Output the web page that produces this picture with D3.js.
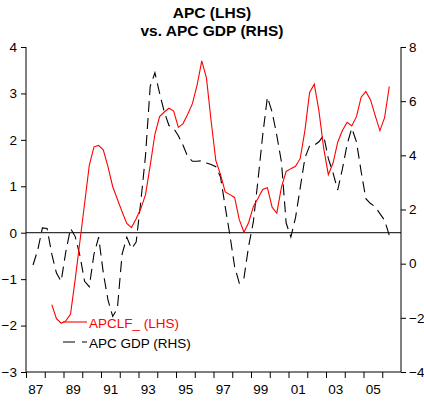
<!DOCTYPE html>
<html>
<head>
<meta charset="utf-8">
<script src="https://cdn.jsdelivr.net/npm/d3@7"></script>
<style>
  html, body { margin: 0; padding: 0; background: #fff; }
  svg { display: block; font-family: "Liberation Sans", Arial, sans-serif; }
</style>
</head>
<body>
<svg id="chart" width="424" height="401"></svg>
<script>
// ---- Data (quarterly) ----
const apcStart = 1988.375;   // first quarter plotted for APCLF_
const apcValues = [
  -1.55, -1.85, -1.95, -1.90, -1.75, -1.00, -0.19, 0.63, 1.45, 1.85, 1.88,
  1.78, 1.42, 0.99, 0.72, 0.45, 0.20, 0.11, 0.30, 0.52, 0.82, 1.45, 2.12,
  2.50, 2.60, 2.68, 2.62, 2.27, 2.35, 2.55, 2.78, 3.18, 3.70, 3.33, 2.40,
  1.55, 1.25, 0.88, 0.82, 0.76, 0.28, 0.01, 0.22, 0.56, 0.74, 0.93, 0.97,
  0.55, 0.42, 0.98, 1.32, 1.38, 1.43, 1.60, 2.20, 3.02, 3.20, 2.62, 1.82,
  1.25, 1.50, 1.95, 2.20, 2.38, 2.30, 2.50, 2.92, 3.04, 2.86, 2.52, 2.20,
  2.48, 3.15
];
const gdpStart = 1987.375;   // first quarter plotted for APC GDP
const gdpValues = [
  -0.05, 0.50, 1.32, 1.30, 0.35, -0.35, -0.65, 0.45, 1.30, 1.00, 0.30,
  -0.65, -0.85, 0.35, 0.98, -0.35, -1.35, -1.95, -1.65, 0.35, 0.98, 0.55,
  0.80, 2.30, 4.00, 6.55, 7.05, 6.30, 5.60, 5.10, 5.00, 4.72, 4.37, 3.95,
  3.78, 3.78, 3.80, 3.72, 3.66, 3.58, 3.20, 2.10, 1.05, -0.10, -0.72, -0.53,
  0.65, 1.54, 3.10, 4.75, 6.15, 5.60, 4.74, 3.75, 1.50, 0.98, 1.70, 2.80,
  3.90, 4.35, 4.37, 4.50, 4.74, 3.88, 3.35, 2.72, 3.50, 4.40, 5.00, 4.50,
  3.40, 2.40, 2.22, 2.10, 1.85, 1.60, 1.05
];
const yearTicks = d3.range(1987, 2007);
const yearLabels = [1987, 1989, 1991, 1993, 1995, 1997, 1999, 2001, 2003, 2005];
const leftTicks = [-3, -2, -1, 0, 1, 2, 3, 4];
const rightTicks = [-4, -2, 0, 2, 4, 6, 8];
const titleLines = ["APC (LHS)", "vs. APC GDP (RHS)"];
const legendLabels = ["APCLF_ (LHS)", "APC GDP (RHS)"];

const apcData = apcValues.map((v, i) => ({ t: apcStart + i * 0.25, v }));
const gdpData = gdpValues.map((v, i) => ({ t: gdpStart + i * 0.25, v }));

// ---- Layout ----
const L = 26, R = 401, T = 47, B = 372;
const svg = d3.select("#chart");

const x = d3.scaleLinear().domain([1987, 2007]).range([L, R]);
const yL = d3.scaleLinear().domain([-3, 4]).range([B, T]);
const yR = d3.scaleLinear().domain([-4, 8]).range([B, T]);

// Title
svg.append("g").selectAll("text").data(titleLines).join("text")
  .attr("x", 212).attr("y", (d, i) => 18 + i * 18)
  .attr("text-anchor", "middle")
  .attr("font-weight", "bold").attr("font-size", 15.5)
  .attr("fill", "#000")
  .text(d => d);

// Zero line (LHS)
svg.append("line")
  .attr("x1", L).attr("x2", R)
  .attr("y1", yL(0)).attr("y2", yL(0))
  .attr("stroke", "#000").attr("stroke-width", 1);

// Axes
const axisFont = 13.5;
const gL = svg.append("g").attr("transform", `translate(${L},0)`)
  .call(d3.axisLeft(yL).tickValues(leftTicks).tickSize(5).tickPadding(4).tickFormat(d3.format("d")));
const gR = svg.append("g").attr("transform", `translate(${R},0)`)
  .call(d3.axisRight(yR).tickValues(rightTicks).tickSize(5).tickPadding(3).tickFormat(d3.format("d")));
const gB = svg.append("g").attr("transform", `translate(0,${B})`)
  .call(d3.axisBottom(x).tickValues(yearTicks).tickSize(6).tickFormat(""));
const gBL = svg.append("g").attr("transform", `translate(0,${B})`)
  .call(d3.axisBottom(x).tickValues(yearLabels.map(y => y + 0.5)).tickSize(0).tickPadding(12)
    .tickFormat(d => String(Math.floor(d) % 100).padStart(2, "0")));
gBL.select(".domain").remove();

[gL, gR, gB, gBL].forEach(g => {
  g.selectAll(".domain").attr("stroke", "#000");
  g.selectAll(".tick line").attr("stroke", "#000");
  g.selectAll("text").attr("font-size", axisFont).attr("fill", "#000")
    .attr("font-family", "Liberation Sans, Arial, sans-serif");
});
gL.select(".domain").attr("d", `M0,${T}V${B}`);
gR.select(".domain").attr("d", `M0,${T}V${B}`);
gB.select(".domain").attr("d", `M${L},0H${R}`);

// Lines
const lineL = d3.line().x(d => x(d.t)).y(d => yL(d.v));
const lineR = d3.line().x(d => x(d.t)).y(d => yR(d.v));

svg.append("path").datum(gdpData)
  .attr("d", lineR).attr("fill", "none")
  .attr("stroke", "#000").attr("stroke-width", 1.1)
  .attr("stroke-dasharray", "11,6");

svg.append("path").datum(apcData)
  .attr("d", lineL).attr("fill", "none")
  .attr("stroke", "#ff0000").attr("stroke-width", 1.1);

// Legend
const legend = svg.append("g");
const legItems = [
  { label: legendLabels[0], color: "#ff0000", dash: null, y: 322 },
  { label: legendLabels[1], color: "#000", dash: "12,7", y: 342 }
];
legItems.forEach(it => {
  legend.append("line")
    .attr("x1", 63).attr("x2", 87).attr("y1", it.y).attr("y2", it.y)
    .attr("stroke", it.color).attr("stroke-width", 1.1)
    .attr("stroke-dasharray", it.dash);
  legend.append("text")
    .attr("x", 89).attr("y", it.y + 6)
    .attr("font-size", 13.5).attr("fill", it.color)
    .text(it.label);
});
</script>
</body>
</html>
